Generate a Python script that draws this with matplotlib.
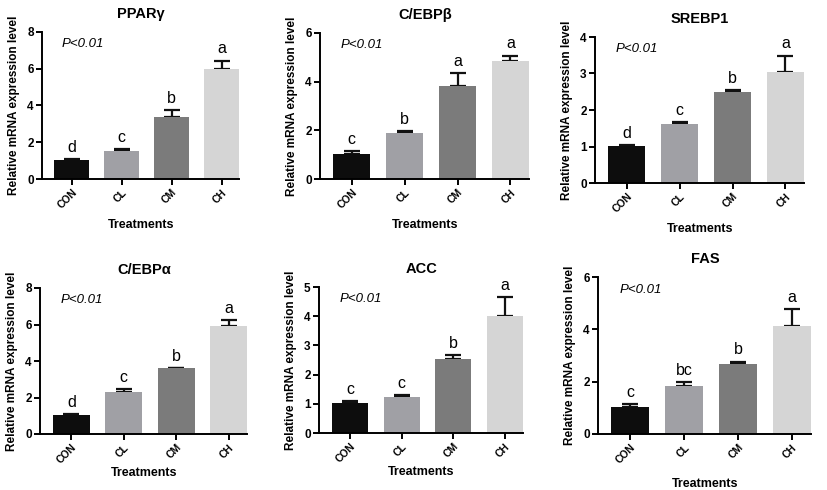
import matplotlib.pyplot as plt

plt.rcParams['font.family'] = ['Liberation Sans', 'DejaVu Sans']

groups = ['CON', 'CL', 'CM', 'CH']
colors = ['#0d0d0d', '#a0a0a5', '#7b7b7b', '#d5d5d5']

titles = ['PPARγ', 'C/EBPβ', 'SREBP1', 'C/EBPα', 'ACC', 'FAS']
means = [
    [1.03, 1.55, 3.40, 5.98],
    [1.02, 1.87, 3.83, 4.86],
    [1.02, 1.61, 2.50, 3.03],
    [1.04, 2.31, 3.59, 5.94],
    [1.04, 1.23, 2.52, 4.00],
    [1.03, 1.84, 2.66, 4.14],
]
errs = [
    [0.04, 0.06, 0.33, 0.46],
    [0.14, 0.11, 0.52, 0.21],
    [0.02, 0.06, 0.05, 0.46],
    [0.05, 0.15, 0.03, 0.31],
    [0.04, 0.08, 0.16, 0.66],
    [0.12, 0.15, 0.11, 0.64],
]
letters = [
    ['d', 'c', 'b', 'a'],
    ['c', 'b', 'a', 'a'],
    ['d', 'c', 'b', 'a'],
    ['d', 'c', 'b', 'a'],
    ['c', 'c', 'b', 'a'],
    ['c', 'bc', 'b', 'a'],
]
ymax = [8, 6, 4, 8, 5, 6]
ystep = [2, 2, 1, 2, 1, 2]

# axes boxes in pixels: left, right, top, bottom
boxes = [
    (42, 240, 32, 179),
    (320, 530, 33, 179),
    (595, 805, 37, 183),
    (40, 248, 288, 434),
    (319, 524, 287, 433),
    (598, 812, 277, 434),
]
xlab_pad = [6, 6, 6, 1, 1, 9]

W, H = 827, 490
fig = plt.figure(figsize=(W / 100, H / 100), dpi=100)

for i in range(6):
    l, r, t, b = boxes[i]
    ax = fig.add_axes([l / W, 1 - b / H, (r - l) / W, (b - t) / H])
    x = range(len(groups))
    ax.bar(x, means[i], width=0.7, color=colors, zorder=2)
    ax.errorbar(x, means[i], yerr=[[0] * 4, errs[i]], fmt='none', ecolor='#111111',
                elinewidth=1.6, capsize=6, capthick=1.6, zorder=1)
    for j in range(4):
        ax.annotate(letters[i][j], (j, means[i][j] + errs[i][j]), xytext=(0, 3),
                    textcoords='offset points', ha='center', va='bottom', fontsize=11.5)
    ax.set_xlim(-0.6, 3.37)
    ax.set_ylim(0, ymax[i])
    ax.set_yticks(range(0, ymax[i] + 1, ystep[i]))
    ax.set_xticks(list(x))
    ax.set_xticklabels(groups, rotation=45, ha='right', rotation_mode='anchor',
                       fontsize=7.5, fontweight='bold')
    for lab in ax.get_yticklabels():
        lab.set_fontweight('bold')
        lab.set_fontsize(8.5)
    ax.spines['top'].set_visible(False)
    ax.spines['right'].set_visible(False)
    ax.spines['left'].set_linewidth(1.4)
    ax.spines['bottom'].set_linewidth(1.4)
    ax.spines['bottom'].set_bounds(-0.6, 3.35)
    ax.tick_params(axis='both', width=1.4, length=4, pad=2)
    ax.set_title(titles[i], fontsize=10.5, fontweight='bold', pad=10)
    ax.set_ylabel('Relative mRNA expression level', fontsize=8.5, fontweight='bold', labelpad=5)
    ax.set_xlabel('Treatments', fontsize=9, fontweight='bold', labelpad=xlab_pad[i])
    ax.text(0.1, 0.92, 'P<0.01', transform=ax.transAxes, fontsize=9.5, style='italic',
            ha='left', va='center')

fig.savefig('out.png', dpi=100)
